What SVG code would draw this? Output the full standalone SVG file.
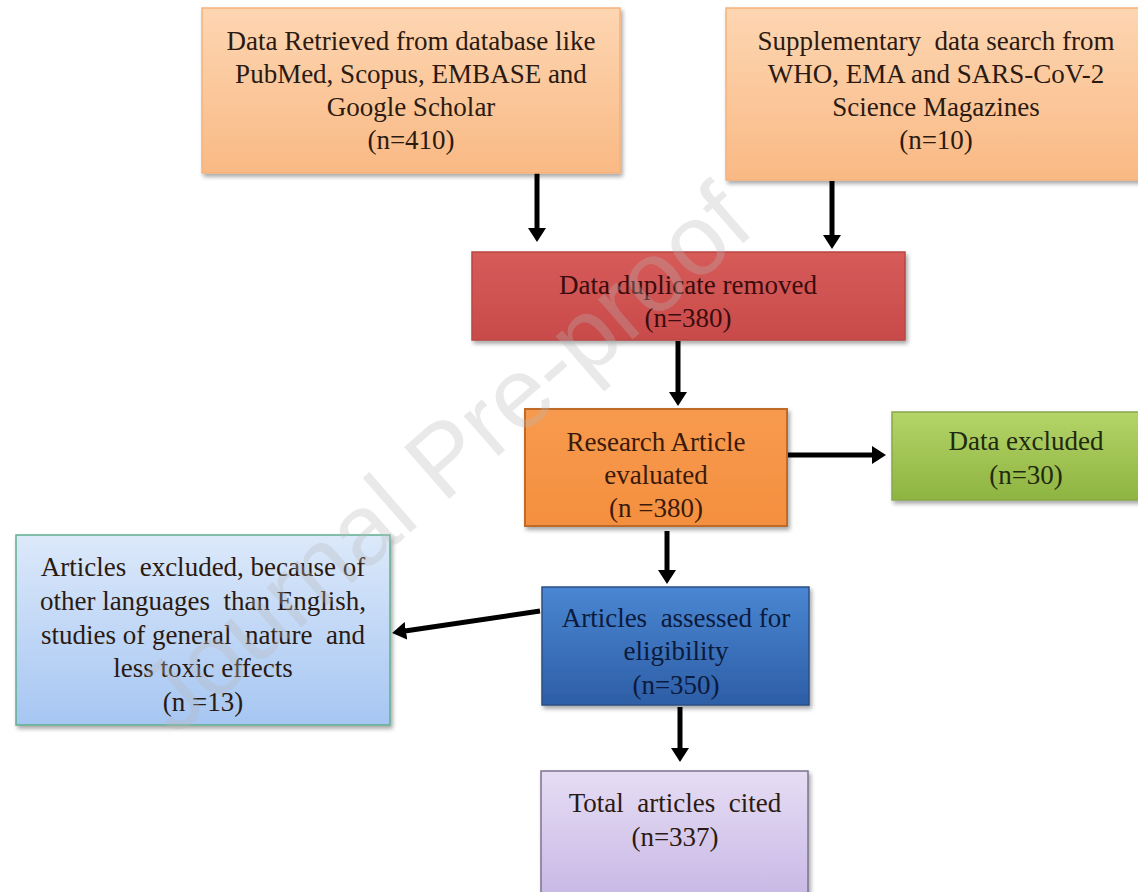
<svg xmlns="http://www.w3.org/2000/svg" width="1138" height="892" viewBox="0 0 1138 892">
<defs>
<style>
.t{font-family:"Liberation Serif","Times New Roman",serif;font-size:27px;text-anchor:middle;white-space:pre}
.dark{fill:#2b1a12}
.box{filter:url(#sh)}
.arrow{stroke:#000;stroke-width:5;fill:none;marker-end:url(#ah)}
.wm{font-family:"Liberation Sans",Arial,sans-serif;font-size:100px;fill:#b8b8b8;opacity:0.3;text-anchor:middle}
</style>
<filter id="sh" x="-5%" y="-5%" width="115%" height="120%">
<feDropShadow dx="2" dy="3" stdDeviation="2" flood-color="#000" flood-opacity="0.35"/>
</filter>
<marker id="ah" viewBox="0 0 14 18" refX="1" refY="9" markerWidth="14" markerHeight="18" markerUnits="userSpaceOnUse" orient="auto">
<path d="M0,0 L14,9 L0,18 z" fill="#000"/>
</marker>
<linearGradient id="gPeach" x1="0" y1="0" x2="0" y2="1">
<stop offset="0" stop-color="#fdd6b2"/><stop offset="1" stop-color="#f9b984"/>
</linearGradient>
<linearGradient id="gRed" x1="0" y1="0" x2="0" y2="1">
<stop offset="0" stop-color="#d65b59"/><stop offset="1" stop-color="#c94b4a"/>
</linearGradient>
<linearGradient id="gOrange" x1="0" y1="0" x2="0" y2="1">
<stop offset="0" stop-color="#f89a4e"/><stop offset="1" stop-color="#f48f3f"/>
</linearGradient>
<linearGradient id="gGreen" x1="0" y1="0" x2="0" y2="1">
<stop offset="0" stop-color="#b4d468"/><stop offset="1" stop-color="#8eb441"/>
</linearGradient>
<linearGradient id="gLBlue" x1="0" y1="0" x2="0" y2="1">
<stop offset="0" stop-color="#dce9fa"/><stop offset="1" stop-color="#a6c6f2"/>
</linearGradient>
<linearGradient id="gBlue" x1="0" y1="0" x2="0" y2="1">
<stop offset="0" stop-color="#4a86d2"/><stop offset="1" stop-color="#2d5ea6"/>
</linearGradient>
<linearGradient id="gPurple" x1="0" y1="0" x2="0" y2="1">
<stop offset="0" stop-color="#e6ddf4"/><stop offset="1" stop-color="#c7b7e5"/>
</linearGradient>
</defs>
<rect width="1138" height="892" fill="#fff"/>

<g id="connectors">
<line class="arrow" x1="537" y1="173" x2="537" y2="229"/>
<line class="arrow" x1="832" y1="181" x2="832" y2="236"/>
<line class="arrow" x1="678" y1="341" x2="678" y2="393"/>
<line class="arrow" x1="787" y1="455" x2="873" y2="455"/>
<line class="arrow" x1="667" y1="531" x2="667" y2="571"/>
<line class="arrow" x1="540" y1="611" x2="405" y2="631"/>
<line class="arrow" x1="680" y1="707" x2="680" y2="749"/>
</g>

<g id="n-retrieved">
<rect class="box" x="202" y="8" width="418" height="165" fill="url(#gPeach)" stroke="#f5b27c" stroke-width="1.5"/>
<text class="t dark" x="411" y="50">Data Retrieved from database like</text>
<text class="t dark" x="411" y="83">PubMed, Scopus, EMBASE and</text>
<text class="t dark" x="411" y="116">Google Scholar</text>
<text class="t dark" x="411" y="149">(n=410)</text>
</g>

<g id="n-supplementary">
<rect class="box" x="726" y="8" width="420" height="172" fill="url(#gPeach)" stroke="#f5b27c" stroke-width="1.5"/>
<text class="t dark" x="936" y="50">Supplementary  data search from</text>
<text class="t dark" x="936" y="83">WHO, EMA and SARS-CoV-2</text>
<text class="t dark" x="936" y="116">Science Magazines</text>
<text class="t dark" x="936" y="149">(n=10)</text>
</g>

<g id="n-duplicate">
<rect class="box" x="472" y="252" width="433" height="88" fill="url(#gRed)" stroke="#b94644" stroke-width="1.5"/>
<text class="t" fill="#3a0c0c" x="688" y="294">Data duplicate removed</text>
<text class="t" fill="#3a0c0c" x="688" y="327">(n=380)</text>
</g>

<g id="n-evaluated">
<rect class="box" x="525" y="409" width="262" height="117" fill="url(#gOrange)" stroke="#c06a2c" stroke-width="2"/>
<text class="t" fill="#3a1a0a" x="656" y="451">Research Article</text>
<text class="t" fill="#3a1a0a" x="656" y="484">evaluated</text>
<text class="t" fill="#3a1a0a" x="656" y="517">(n =380)</text>
</g>

<g id="n-excluded">
<rect class="box" x="892" y="412" width="270" height="88" fill="url(#gGreen)" stroke="#88a84a" stroke-width="1.5"/>
<text class="t" fill="#1f2a10" x="1026" y="450">Data excluded</text>
<text class="t" fill="#1f2a10" x="1026" y="484">(n=30)</text>
</g>

<g id="n-articles-excluded">
<rect class="box" x="16" y="535" width="374" height="190" fill="url(#gLBlue)" stroke="#5fae8e" stroke-width="1.5"/>
<text class="t dark" x="203" y="576">Articles  excluded, because of</text>
<text class="t dark" x="203" y="610">other languages  than English,</text>
<text class="t dark" x="203" y="644">studies of general  nature  and</text>
<text class="t dark" x="203" y="677">less toxic effects</text>
<text class="t dark" x="203" y="711">(n =13)</text>
</g>

<g id="n-assessed">
<rect class="box" x="542" y="587" width="267" height="118" fill="url(#gBlue)" stroke="#2a4f86" stroke-width="1.5"/>
<text class="t" fill="#0c1a3c" x="676" y="627">Articles  assessed for</text>
<text class="t" fill="#0c1a3c" x="676" y="660">eligibility</text>
<text class="t" fill="#0c1a3c" x="676" y="694">(n=350)</text>
</g>

<g id="n-cited">
<rect class="box" x="541" y="771" width="267" height="130" fill="url(#gPurple)" stroke="#7d7390" stroke-width="1.5"/>
<text class="t dark" x="675" y="812">Total  articles  cited</text>
<text class="t dark" x="675" y="846">(n=337)</text>
</g>

<g id="watermark">
<text class="wm" x="445" y="492" transform="rotate(-41 445 460)">Journal Pre-proof</text>
</g>
</svg>
